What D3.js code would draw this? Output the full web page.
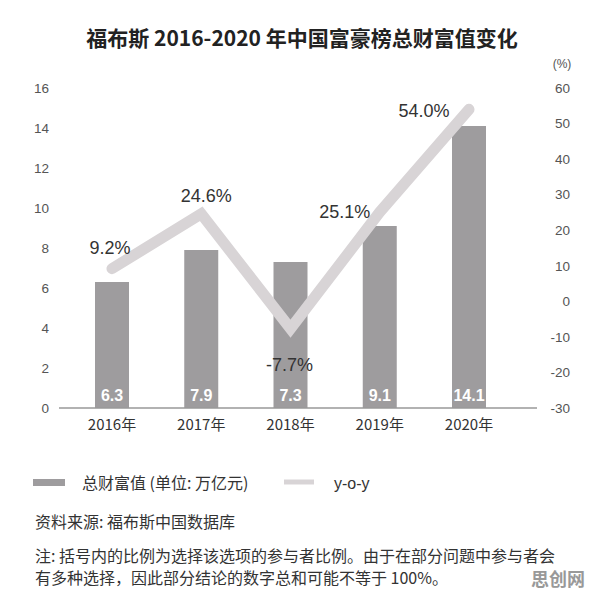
<!DOCTYPE html>
<html>
<head>
<meta charset="utf-8">
<script src="https://cdn.jsdelivr.net/npm/d3@7"></script>
<style>
  body { margin: 0; background: #fff; }
  text { font-family: "Liberation Sans", "Noto Sans CJK SC", sans-serif; }
</style>
</head>
<body>
<div id="chart"></div>
<script>
// data
var years = ["2016年", "2017年", "2018年", "2019年", "2020年"];
var wealth = [6.3, 7.9, 7.3, 9.1, 14.1];         // 万亿元
var yoy = [9.2, 24.6, -7.7, 25.1, 54.0];          // %
var leftTicks = [0, 2, 4, 6, 8, 10, 12, 14, 16];
var rightTicks = [-30, -20, -10, 0, 10, 20, 30, 40, 50, 60];
// label offsets (dx, dy) relative to each line point
var yoyLabelOffset = [[-2, -21], [5, -18], [-1, 36], [-35, 0], [-45, 1]];

var width = 596, height = 592;
var barColor = "#9e9c9e", lineColor = "#d8d4d6", textColor = "#333";

var svg = d3.select("#chart").append("svg")
    .attr("width", width)
    .attr("height", height);

var x = d3.scalePoint()
    .domain(years)
    .range([112, 469]);

var yLeft = d3.scaleLinear().domain([0, 16]).range([408, 88]);
var yRight = d3.scaleLinear().domain([-30, 60]).range([408, 88]);
var barWidth = 34;

// title
svg.append("text")
    .attr("x", 302).attr("y", 46)
    .attr("text-anchor", "middle")
    .style("font-family", "'Noto Sans CJK SC', sans-serif")
    .style("font-size", "21px")
    .style("font-weight", "bold")
    .style("fill", "#222")
    .text("福布斯 2016-2020 年中国富豪榜总财富值变化");

// left axis labels
svg.selectAll(".lt")
    .data(leftTicks)
    .enter().append("text")
    .attr("class", "lt")
    .attr("x", 49)
    .attr("y", function(d){ return yLeft(d); })
    .attr("dy", "0.35em")
    .attr("text-anchor", "end")
    .style("font-size", "13.5px")
    .style("fill", "#555")
    .text(function(d){ return d; });

// right axis labels
svg.selectAll(".rt")
    .data(rightTicks)
    .enter().append("text")
    .attr("class", "rt")
    .attr("x", 570)
    .attr("y", function(d){ return yRight(d); })
    .attr("dy", "0.35em")
    .attr("text-anchor", "end")
    .style("font-size", "13.5px")
    .style("fill", "#555")
    .text(function(d){ return d; });

svg.append("text")
    .attr("x", 562).attr("y", 64)
    .attr("dy", "0.35em")
    .attr("text-anchor", "middle")
    .style("font-size", "12px")
    .style("fill", "#555")
    .text("(%)");

// bars
svg.selectAll("rect.bar")
    .data(wealth)
    .enter().append("rect")
    .attr("class", "bar")
    .attr("x", function(d, i){ return x(years[i]) - barWidth / 2; })
    .attr("y", function(d){ return yLeft(d); })
    .attr("width", barWidth)
    .attr("height", function(d){ return yLeft(0) - yLeft(d); })
    .style("fill", barColor);

// baseline
svg.append("line")
    .attr("x1", 59).attr("x2", 537)
    .attr("y1", yLeft(0)).attr("y2", yLeft(0))
    .style("stroke", "#999")
    .style("stroke-width", 1.5);

// bar values
svg.selectAll(".bv")
    .data(wealth)
    .enter().append("text")
    .attr("class", "bv")
    .attr("x", function(d, i){ return x(years[i]); })
    .attr("y", 395)
    .attr("dy", "0.35em")
    .attr("text-anchor", "middle")
    .style("font-size", "16px")
    .style("font-weight", "bold")
    .style("fill", "#fff")
    .text(function(d){ return d.toFixed(1); });

// category labels
svg.selectAll(".cat")
    .data(years)
    .enter().append("text")
    .attr("class", "cat")
    .attr("x", function(d){ return x(d); })
    .attr("y", 425)
    .attr("dy", "0.35em")
    .attr("text-anchor", "middle")
    .style("font-family", "'Noto Sans CJK SC', sans-serif")
    .style("font-size", "15px")
    .style("fill", textColor)
    .text(function(d){ return d; });

// y-o-y line
var line = d3.line()
    .x(function(d, i){ return x(years[i]); })
    .y(function(d){ return yRight(d); });

svg.append("path")
    .datum(yoy)
    .attr("d", line)
    .style("fill", "none")
    .style("stroke", lineColor)
    .style("stroke-width", 11)
    .style("stroke-linecap", "round")
    .style("stroke-linejoin", "miter");

svg.selectAll(".yl")
    .data(yoy)
    .enter().append("text")
    .attr("class", "yl")
    .attr("x", function(d, i){ return x(years[i]) + yoyLabelOffset[i][0]; })
    .attr("y", function(d, i){ return yRight(d) + yoyLabelOffset[i][1]; })
    .attr("dy", "0.35em")
    .attr("text-anchor", "middle")
    .style("font-size", "18px")
    .style("fill", textColor)
    .text(function(d){ return d.toFixed(1) + "%"; });

// legend
svg.append("rect")
    .attr("x", 33).attr("y", 479)
    .attr("width", 32).attr("height", 7)
    .style("fill", barColor);
svg.append("text")
    .attr("x", 82).attr("y", 483)
    .attr("dy", "0.35em")
    .style("font-family", "'Noto Sans CJK SC', sans-serif")
    .style("font-size", "16px")
    .style("fill", textColor)
    .text("总财富值 (单位: 万亿元)");
svg.append("line")
    .attr("x1", 284).attr("x2", 314)
    .attr("y1", 482).attr("y2", 482)
    .style("stroke", lineColor)
    .style("stroke-width", 5);
svg.append("text")
    .attr("x", 334).attr("y", 483)
    .attr("dy", "0.35em")
    .style("font-size", "16px")
    .style("fill", textColor)
    .text("y-o-y");

// source and notes
var notes = [
    "资料来源: 福布斯中国数据库",
    "注: 括号内的比例为选择该选项的参与者比例。由于在部分问题中参与者会",
    "有多种选择，因此部分结论的数字总和可能不等于 100%。"
];
var noteY = [522, 556, 578];
svg.selectAll(".note")
    .data(notes)
    .enter().append("text")
    .attr("class", "note")
    .attr("x", 35)
    .attr("y", function(d, i){ return noteY[i]; })
    .attr("dy", "0.35em")
    .style("font-family", "'Noto Sans CJK SC', sans-serif")
    .style("font-size", "16px")
    .style("fill", textColor)
    .text(function(d){ return d; });

// site mark
svg.append("text")
    .attr("x", 558).attr("y", 580)
    .attr("dy", "0.35em")
    .attr("text-anchor", "middle")
    .style("font-family", "'Noto Sans CJK SC', sans-serif")
    .style("font-size", "18px")
    .style("font-weight", "bold")
    .style("fill", "#999")
    .text("思创网");
</script>
</body>
</html>
